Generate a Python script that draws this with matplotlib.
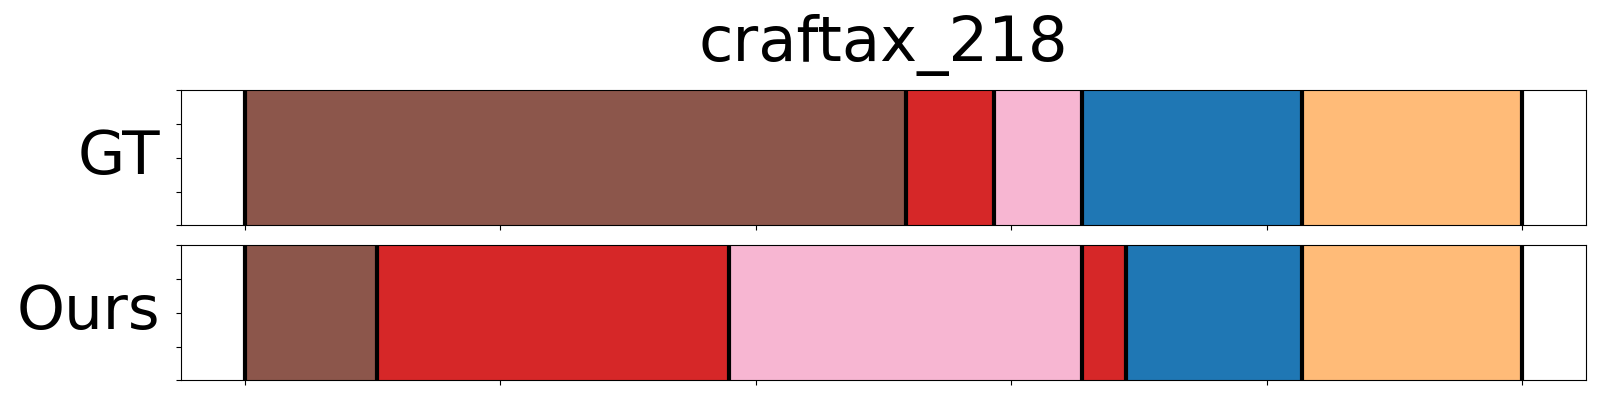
import numpy as np
import matplotlib
matplotlib.use("Agg")
from matplotlib import pyplot as plt

title = "craftax_218"
row_names = ["GT", "Ours"]
n_frames = 58

# segment boundaries (frame index) and the action class of each segment
gt_bounds = [0, 30, 34, 38, 48, 58]
gt_classes = [10, 6, 13, 0, 3]
ours_bounds = [0, 6, 22, 38, 40, 48, 58]
ours_classes = [10, 6, 13, 6, 0, 3]

cmap = plt.get_cmap("tab20")

fig, axes = plt.subplots(2, 1, figsize=(16, 4), dpi=100)
plt.subplots_adjust(left=0.1133, right=0.9911, top=0.774, bottom=0.049, hspace=0.148)

for ax, name, bounds, classes in zip(axes, row_names,
                                      [gt_bounds, ours_bounds],
                                      [gt_classes, ours_classes]):
    for s, e, c in zip(bounds[:-1], bounds[1:], classes):
        ax.axvspan(s, e, color=cmap(c))
    for b in bounds:
        ax.axvline(b, color="black", linewidth=3)
    ax.set_xlim(-0.05 * n_frames, 1.05 * n_frames)
    ax.set_ylim(0, 1)
    ax.set_xticks(np.linspace(0, n_frames, 6))
    ax.set_yticks([0, 0.25, 0.5, 0.75, 1.0])
    ax.set_xticklabels([])
    ax.set_yticklabels([])
    ax.set_ylabel(name, fontsize=44, rotation=0, ha="right", va="center", labelpad=8)

axes[0].set_title(title, fontsize=45, pad=21)

plt.savefig("out.png")
